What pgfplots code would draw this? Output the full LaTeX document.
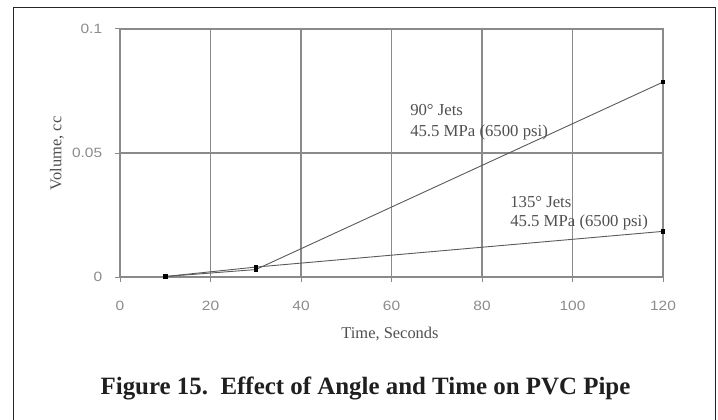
\documentclass[border=0pt]{standalone}
\usepackage{pgfplots}
\pgfplotsset{compat=1.18}
\usepackage{fontspec}
\setmainfont{Liberation Serif}
\newfontfamily\sansf{Liberation Sans}
\definecolor{gridc}{HTML}{8A8A8A}
\definecolor{tickc}{HTML}{8C8C8C}
\definecolor{textc}{HTML}{505050}
\definecolor{linec}{HTML}{5A5A5A}
\begin{document}
\begin{tikzpicture}[x=1bp,y=1bp]
\useasboundingbox (0,0) rectangle (718,419);
\clip (0,0) rectangle (718,419);
\fill[white] (0,0) rectangle (718,419);
\draw[line width=1.5bp, color=black!85] (13.5,-20) rectangle (715.5,411.5);
\begin{axis}[
  at={(120bp,142bp)}, anchor=south west,
  scale only axis, width=543bp, height=248bp,
  xmin=0, xmax=120, ymin=0, ymax=0.1,
  xtick={0,20,40,60,80,100,120},
  ytick={0,0.05,0.1},
  yticklabels={0,0.05,0.1},
  xticklabels={0,20,40,60,80,100,120},
  axis line style={draw=gridc, line width=1bp},
  grid=major,
  major grid style={draw=gridc, line width=1.1bp},
  tick align=outside,
  major tick length=5bp,
  tick style={draw=gridc, line width=1bp},
  xtick pos=bottom, ytick pos=left,
  tick label style={font=\sansf\fontsize{13.5}{14}\selectfont, text=tickc, xscale=1.15},
  xticklabel style={anchor=center, yshift=-24bp, inner sep=0pt},
  yticklabel style={anchor=east, xshift=-11bp, inner sep=0pt},
  /pgf/number format/assume math mode=true,
  clip=false,
]
\addplot[linec, line width=0.9bp, mark=square*, mark size=1.8bp, mark options={black, solid}]
  coordinates {(10,0.0002) (30,0.0030) (120,0.0786)};
\addplot[linec, line width=0.9bp, mark=square*, mark size=1.8bp, mark options={black, solid}]
  coordinates {(10,0.0002) (30,0.0040) (120,0.0184)};
\node[anchor=west, inner sep=0pt, text=textc, font=\fontsize{16.8}{17}\selectfont] at (axis cs:64.1,0.0673) {90° Jets};
\node[anchor=west, inner sep=0pt, text=textc, font=\fontsize{16.8}{17}\selectfont] at (axis cs:64.1,0.0581) {45.5 MPa (6500 psi)};
\node[anchor=west, inner sep=0pt, text=textc, font=\fontsize{16.8}{17}\selectfont] at (axis cs:86.2,0.0304) {135° Jets};
\node[anchor=west, inner sep=0pt, text=textc, font=\fontsize{16.8}{17}\selectfont] at (axis cs:86.2,0.0218) {45.5 MPa (6500 psi)};
\end{axis}
\node[text=textc, font=\fontsize{16.5}{17}\selectfont, inner sep=0pt] at (390,85) {Time, Seconds};
\node[text=textc, font=\fontsize{16.5}{17}\selectfont, inner sep=0pt, rotate=90] at (57,265.5) {Volume, cc};
\node[anchor=base, inner sep=0pt, text=black!88, font=\bfseries\fontsize{25}{26}\selectfont] at (365.5,25) {Figure 15.\ \ Effect of Angle and Time on PVC Pipe};
\end{tikzpicture}
\end{document}
